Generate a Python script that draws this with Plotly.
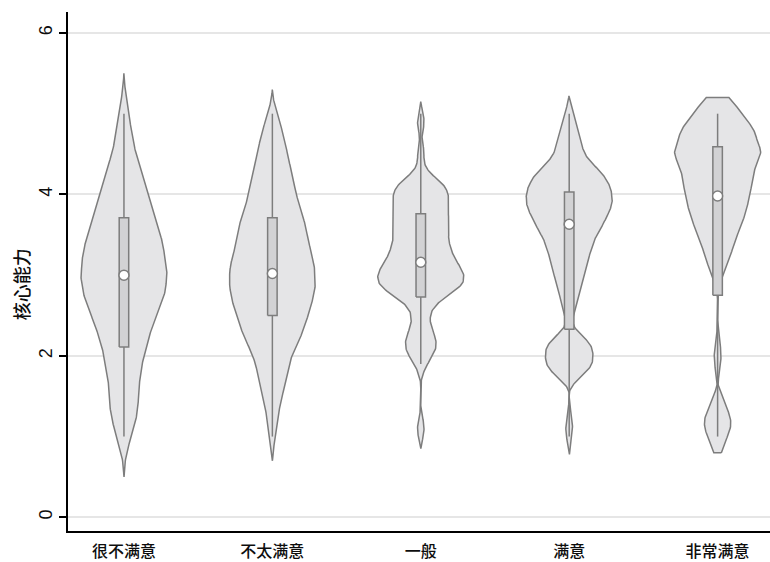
import numpy as np
import plotly.graph_objects as go

# Satisfaction groups on the x axis
categories = ["很不满意", "不太满意", "一般", "满意", "非常满意"]
y_title = "核心能力"

# Core-competence scores (value levels) and number of respondents at each level
g1_scores = [1.0, 1.2, 1.4, 1.6, 1.8, 2.0, 2.2, 2.4, 2.6, 2.8, 3.0, 3.2, 3.4, 3.6,
             3.8, 4.0, 4.2, 4.4, 4.6, 4.8, 5.0]
g1_counts = [1, 2, 2, 2, 2, 3, 3, 4, 5, 6, 6, 6, 5, 5, 4, 3, 3, 2, 1, 1, 1]

g2_scores = [1.0, 1.2, 1.3, 1.4, 1.5, 1.6, 1.7, 1.8, 1.9, 2.0, 2.1, 2.2, 2.3, 2.4,
             2.5, 2.6, 2.7, 2.8, 2.9, 3.0, 3.1, 3.2, 3.3, 3.4, 3.5, 3.6, 3.7, 3.8,
             3.9, 4.0, 4.1, 4.2, 4.3, 4.4, 4.5, 4.6, 4.7, 4.8, 4.9, 5.0]
g2_counts = [1, 1, 1, 1, 1, 2, 2, 2, 2, 3, 3, 4, 4, 5, 5, 5, 6, 6, 6, 6, 6, 6, 5,
             5, 5, 5, 4, 4, 4, 3, 3, 3, 3, 2, 2, 2, 2, 1, 1, 1]

g3_scores = [1.1, 1.9, 2.0, 2.1, 2.2, 2.3, 2.4, 2.5, 2.6, 2.7, 2.8, 2.9, 3.0, 3.1,
             3.2, 3.3, 3.4, 3.5, 3.6, 3.7, 3.8, 3.9, 4.0, 4.1, 4.2, 4.5, 4.9]
g3_counts = [1, 1, 1, 2, 2, 1, 1, 1, 1, 2, 4, 5, 5, 4, 4, 3, 3, 3, 3, 3, 3, 3, 3,
             3, 2, 1, 1]

g4_scores = [1.0, 1.2, 1.8, 1.9, 2.0, 2.1, 2.2, 2.5, 2.6, 2.7, 2.8, 2.9, 3.0, 3.1,
             3.2, 3.3, 3.4, 3.5, 3.6, 3.7, 3.8, 3.9, 4.0, 4.1, 4.2, 4.3, 4.4, 4.5,
             4.6, 4.7, 4.8, 4.9, 5.0]
g4_counts = [1, 1, 4, 4, 3, 4, 4, 1, 1, 1, 2, 2, 2, 3, 3, 3, 4, 4, 5, 6, 6, 7, 7,
             6, 6, 5, 3, 2, 2, 2, 1, 1, 1]

g5_scores = [1.0, 1.2, 1.3, 2.0, 3.1, 3.2, 3.3, 3.4, 3.5, 3.6, 3.7, 3.8, 3.9, 4.0,
             4.1, 4.2, 4.3, 4.4, 4.5, 4.6, 4.7, 4.8, 5.0]
g5_counts = [2, 1, 2, 1, 1, 1, 1, 1, 1, 2, 2, 2, 2, 2, 3, 2, 3, 2, 3, 4, 4, 1, 6]

group_scores = [g1_scores, g2_scores, g3_scores, g4_scores, g5_scores]
group_counts = [g1_counts, g2_counts, g3_counts, g4_counts, g5_counts]

# Box summaries: adjacent values, quartiles and median per group
whisker_low = [1.0, 1.0, 1.9, 1.0, 1.0]
quart_1 = [2.11, 2.50, 2.73, 2.33, 2.75]
medians = [3.00, 3.02, 3.16, 3.63, 3.98]
quart_3 = [3.71, 3.71, 3.76, 4.03, 4.59]
whisker_high = [5.0, 5.0, 5.0, 5.0, 5.0]

# Kernel settings (biweight bandwidth, evaluation range beyond the data)
bandwidths = [0.55, 0.33, 0.27, 0.27, 0.40]
tail_ext = [0.5, 0.3, 0.25, 0.22, 0.2]

VIOLIN_FILL = "#e5e5e7"
BOX_FILL = "#d2d2d4"
EDGE = "#7d7d7d"
HALF_WIDTH = 0.29
BOX_HALF = 0.032
FONT = "Liberation Sans, Noto Sans CJK SC, sans-serif"
TEXT = "#0d0d0d"


def biweight_density(grid, scores, counts, bw):
    s = np.asarray(scores, dtype=float)
    c = np.asarray(counts, dtype=float)
    u = (grid[:, None] - s[None, :]) / bw
    k = np.clip(1.0 - u ** 2, 0.0, None) ** 2 * 15.0 / 16.0 / bw
    return (k * c[None, :]).sum(axis=1) / c.sum()


fig = go.Figure()

# violin bodies
for i, (scores, counts) in enumerate(zip(group_scores, group_counts)):
    lo = min(scores) - tail_ext[i]
    hi = max(scores) + tail_ext[i]
    grid = np.linspace(lo, hi, 301)
    dens = biweight_density(grid, scores, counts, bandwidths[i])
    half = HALF_WIDTH * dens / dens.max()
    xs = np.concatenate([i + half, (i - half)[::-1], [i + half[0]]])
    ys = np.concatenate([grid, grid[::-1], [grid[0]]])
    fig.add_trace(go.Scatter(
        x=xs, y=ys, mode="lines", fill="toself", fillcolor=VIOLIN_FILL,
        line=dict(color=EDGE, width=1.5), hoverinfo="skip", showlegend=False,
    ))

# whiskers to the adjacent values
wx, wy = [], []
for i in range(len(categories)):
    wx += [i, i, None, i, i, None]
    wy += [quart_3[i], whisker_high[i], None, quart_1[i], whisker_low[i], None]
fig.add_trace(go.Scatter(
    x=wx, y=wy, mode="lines", line=dict(color=EDGE, width=1.5),
    hoverinfo="skip", showlegend=False,
))

# interquartile boxes
for i in range(len(categories)):
    fig.add_trace(go.Scatter(
        x=[i - BOX_HALF, i + BOX_HALF, i + BOX_HALF, i - BOX_HALF, i - BOX_HALF],
        y=[quart_1[i], quart_1[i], quart_3[i], quart_3[i], quart_1[i]],
        mode="lines", fill="toself", fillcolor=BOX_FILL,
        line=dict(color=EDGE, width=1.5), hoverinfo="skip", showlegend=False,
    ))

# medians
fig.add_trace(go.Scatter(
    x=list(range(len(categories))), y=medians, mode="markers",
    marker=dict(size=10, color="white", line=dict(color=EDGE, width=1.5)),
    hoverinfo="skip", showlegend=False,
))

fig.update_layout(
    width=770, height=562,
    margin=dict(l=68, r=0, t=12, b=31),
    paper_bgcolor="white", plot_bgcolor="white",
    font=dict(family=FONT, size=16, color=TEXT),
    xaxis=dict(
        range=[-0.377, 4.353], tickmode="array",
        tickvals=list(range(len(categories))), ticktext=categories,
        showline=True, linecolor="#000000", linewidth=1.5,
        showgrid=False, zeroline=False, ticks="",
        tickfont=dict(size=16, color=TEXT, weight=500), ticklabelstandoff=5,
    ),
    yaxis=dict(
        range=[-0.17, 6.26], tickmode="array", tickvals=[0, 2, 4, 6],
        ticks="outside", ticklen=7, tickwidth=1.5, tickcolor="#000000",
        showline=True, linecolor="#000000", linewidth=1.5,
        showgrid=True, gridcolor="#e6e6e6", gridwidth=1.5, zeroline=False,
        tickangle=-90, tickfont=dict(size=18, color=TEXT),
        ticklabelstandoff=0, automargin=False,
    ),
    annotations=[dict(
        text=y_title, textangle=-90, showarrow=False,
        xref="paper", yref="paper", x=-0.063, y=0.475,
        xanchor="center", yanchor="middle",
        font=dict(size=18, color=TEXT, weight=500),
    )],
)

fig.write_html("out.html", config={"displayModeBar": False})
